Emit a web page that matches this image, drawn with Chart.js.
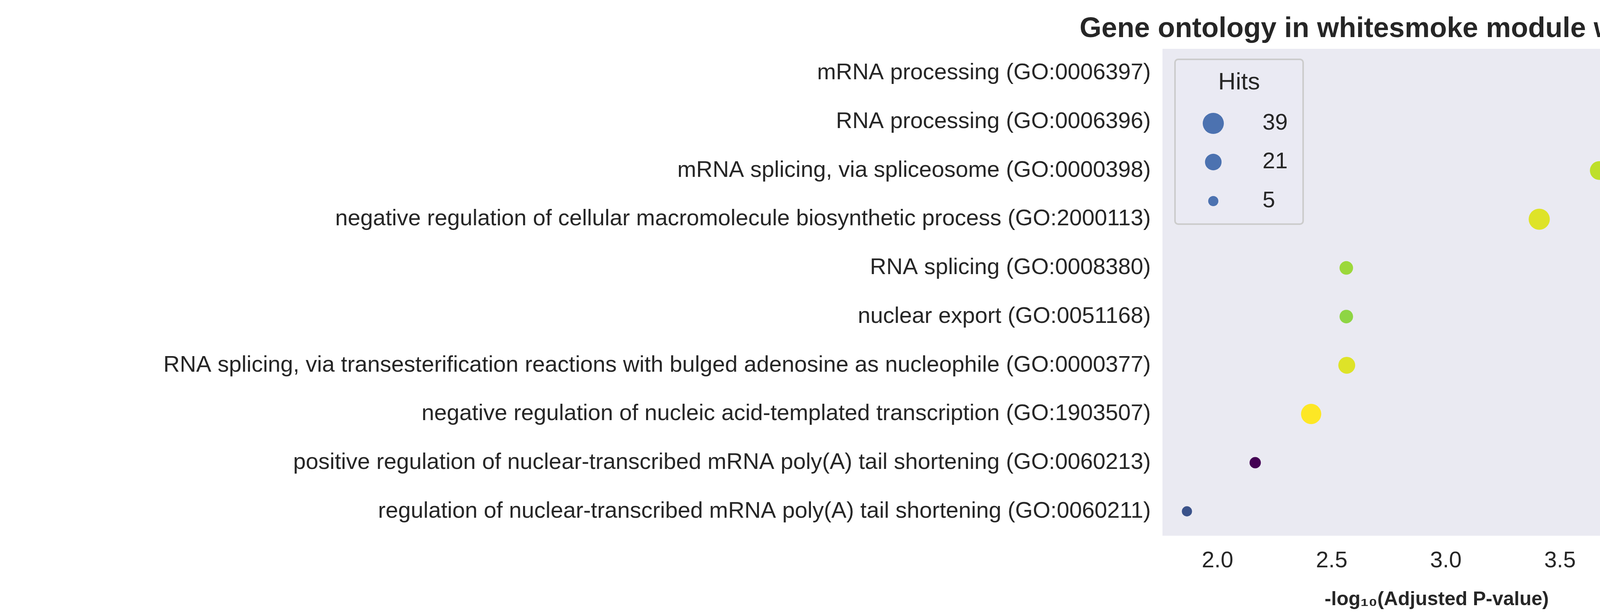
<!DOCTYPE html>
<html>
<head>
<meta charset="utf-8">
<script src="https://cdn.jsdelivr.net/npm/chart.js@4"></script>
<style>
  html, body { margin: 0; padding: 0; background: #fff; overflow: hidden; }
  canvas { display: block; width: 4758px; height: 1570px; }
</style>
</head>
<body>
<canvas id="chart" width="4758" height="1570"></canvas>
<script>
// categories, top to bottom
const terms = [
  "mRNA processing (GO:0006397)",
  "RNA processing (GO:0006396)",
  "mRNA splicing, via spliceosome (GO:0000398)",
  "negative regulation of cellular macromolecule biosynthetic process (GO:2000113)",
  "RNA splicing (GO:0008380)",
  "nuclear export (GO:0051168)",
  "RNA splicing, via transesterification reactions with bulged adenosine as nucleophile (GO:0000377)",
  "negative regulation of nucleic acid-templated transcription (GO:1903507)",
  "positive regulation of nuclear-transcribed mRNA poly(A) tail shortening (GO:0060213)",
  "regulation of nuclear-transcribed mRNA poly(A) tail shortening (GO:0060211)"
];
const negLogP = [4.06, 3.876, 3.672, 3.409, 2.564, 2.564, 2.566, 2.41, 2.165, 1.866];
const hits = [29, 21, 29, 39, 12, 12, 22, 35, 7, 5];
const combinedScore = [57, 66, 47, 38, 57, 61, 38, 29, 215, 168];

const xTicks = [2.0, 2.5, 3.0, 3.5, 4.0];
const legendHits = [39, 21, 5];
const cbarTicks = [200, 100];
const cbarMin = 29, cbarMax = 215;

// viridis colormap stops
const viridis = ["#440154","#482878","#3e4989","#31688e","#26828e","#1f9e89","#35b779","#6ece58","#b5de2b","#fde725"];

function hexRgb(h) { return [1,3,5].map(i => parseInt(h.substr(i,2),16)); }
function viridisAt(t) {
  t = Math.max(0, Math.min(1, t));
  const p = t * (viridis.length - 1), i = Math.floor(p), f = p - i;
  const a = hexRgb(viridis[i]), b = hexRgb(viridis[Math.min(i+1, viridis.length-1)]);
  return "rgb(" + a.map((v,k) => Math.round(v + (b[k]-v)*f)).join(",") + ")";
}
// reversed viridis: high score = dark purple
function scoreColor(s) { return viridisAt(1 - (s - cbarMin) / (cbarMax - cbarMin)); }
function hitRadius(h) { return 5.2 + 3.5 * Math.sqrt(h); }

const TXT = "#262626";
const FONT = "'Liberation Sans', Arial, sans-serif";

const plotBg = {
  id: 'plotBg',
  beforeDraw(chart) {
    const {ctx, chartArea: a} = chart;
    ctx.save();
    ctx.fillStyle = "#eaeaf2";
    ctx.fillRect(a.left, a.top, a.right - a.left, a.bottom - a.top);
    ctx.restore();
  }
};

const extras = {
  id: 'extras',
  afterDraw(chart) {
    const {ctx, chartArea: a} = chart;
    ctx.save();
    // title
    ctx.fillStyle = TXT;
    ctx.font = "bold 72px " + FONT;
    ctx.textAlign = "center";
    ctx.textBaseline = "alphabetic";
    ctx.fillText("Gene ontology in whitesmoke module with 613 genes", (a.left + a.right) / 2, 95);

    // hits legend
    const lx = 3008, ly = 152, lw = 328, lh = 422;
    ctx.fillStyle = "rgba(234,234,242,0.8)";
    ctx.strokeStyle = "#cccccc";
    ctx.lineWidth = 4;
    ctx.beginPath();
    ctx.roundRect(lx, ly, lw, lh, 8);
    ctx.fill(); ctx.stroke();
    ctx.fillStyle = TXT;
    ctx.font = "62px " + FONT;
    ctx.textAlign = "center";
    ctx.textBaseline = "middle";
    ctx.fillText("Hits", 3172, 212);
    const rowsY = [316, 415, 515];
    legendHits.forEach((h, i) => {
      ctx.fillStyle = "#4c72b0";
      ctx.beginPath();
      ctx.arc(3106, rowsY[i], hitRadius(h), 0, Math.PI * 2);
      ctx.fill();
      ctx.fillStyle = TXT;
      ctx.font = "58px " + FONT;
      ctx.textAlign = "left";
      ctx.fillText(String(h), 3232, rowsY[i]);
    });

    // colorbar
    const cx = 4480, cw = 48, ct = 887, cb = 1248;
    const g = ctx.createLinearGradient(0, ct, 0, cb);
    for (let i = 0; i <= 20; i++) g.addColorStop(i / 20, viridisAt(i / 20));
    ctx.fillStyle = g;
    ctx.fillRect(cx, ct, cw, cb - ct);
    ctx.fillStyle = TXT;
    ctx.font = "42px " + FONT;
    ctx.textAlign = "left";
    ctx.textBaseline = "middle";
    ctx.fillText("Combined", cx, 788);
    ctx.fillText("Score", cx, 843);
    ctx.font = "58px " + FONT;
    ctx.strokeStyle = TXT;
    ctx.lineWidth = 3;
    cbarTicks.forEach(v => {
      const y = cb - (v - cbarMin) / (cbarMax - cbarMin) * (cb - ct);
      ctx.beginPath(); ctx.moveTo(cx + cw, y); ctx.lineTo(cx + cw + 18, y); ctx.stroke();
      ctx.fillText(String(v), 4574, y);
    });
    ctx.restore();
  }
};

new Chart(document.getElementById("chart"), {
  type: 'scatter',
  data: {
    labels: terms,
    datasets: [{
      data: terms.map((t, i) => ({x: negLogP[i], y: t})),
      pointRadius: hits.map(hitRadius),
      pointHoverRadius: hits.map(hitRadius),
      backgroundColor: combinedScore.map(scoreColor),
      borderWidth: 0
    }]
  },
  options: {
    responsive: false,
    animation: false,
    devicePixelRatio: 1,
    layout: { padding: { top: 125, right: 378, bottom: 0, left: 0 } },
    plugins: { legend: { display: false }, tooltip: { enabled: false } },
    scales: {
      x: {
        type: 'linear',
        min: 1.759, max: 4.161,
        afterBuildTicks(axis) { axis.ticks = xTicks.map(v => ({value: v})); },
        afterFit(axis) { axis.height = 198; },
        grid: { display: false, drawTicks: false },
        border: { display: false },
        ticks: { color: TXT, font: { size: 58, family: FONT }, padding: 30,
                 callback: v => v.toFixed(1) },
        title: { display: true, text: "-log\u2081\u2080(Adjusted P-value)", color: TXT,
                 font: { size: 50, weight: 'bold', family: FONT }, padding: { top: 10 } }
      },
      y: {
        type: 'category',
        labels: terms,
        offset: true,
        afterFit(axis) { axis.width = 2976; },
        grid: { display: false, drawTicks: false },
        border: { display: false },
        ticks: { color: TXT, font: { size: 58, family: FONT }, padding: 30 }
      }
    }
  },
  plugins: [plotBg, extras]
});
</script>
</body>
</html>
